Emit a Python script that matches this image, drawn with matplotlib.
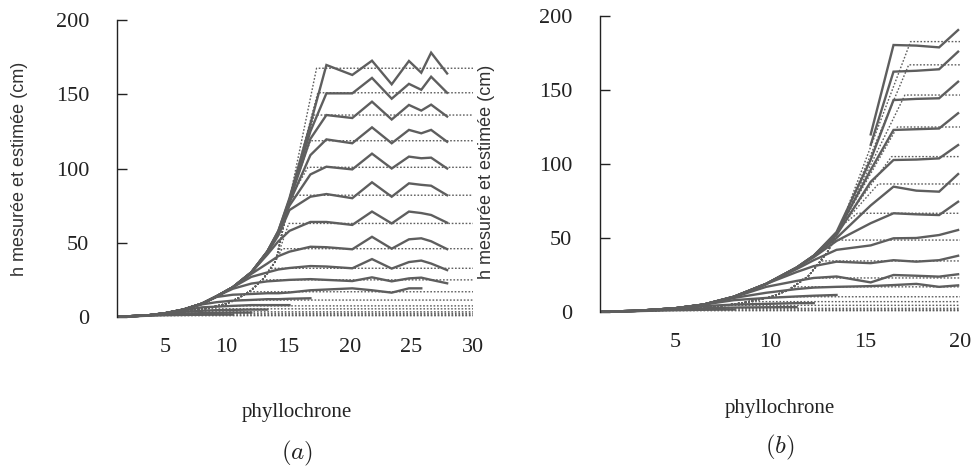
import matplotlib
matplotlib.use('Agg')
import matplotlib.pyplot as plt
import numpy as np

nan = np.nan

# ---- panel (a): measured heights (solid) ----
xa_meas = [1.2, 3.5, 5, 6.5, 8, 9.2, 10.5, 12, 13.3, 14.2, 15.1, 16.8, 18.1,
           20.2, 21.8, 23.4, 24.8, 25.8, 26.6, 27.9]
meas_a = [
    [0.2, 1.0, 2.5, 5, 9, 14, 20, 30, 44, 58, 80, 130, 169.7, 163, 172.6, 156.7, 172.4, 164.5, 178, 164],
    [0.2, 1.0, 2.5, 5, 9, 14, 20, 30, 44, 58, 79, 125, 150.6, 150.6, 161, 147, 157, 153, 161.8, 151],
    [0.2, 1.0, 2.5, 5, 9, 14, 20, 30, 44, 57, 78, 120, 136, 134, 145, 133, 142.8, 139, 143, 135],
    [0.2, 1.0, 2.5, 5, 9, 14, 20, 30, 44, 57, 77, 109, 119.6, 117, 127.7, 117, 126, 123.7, 126, 118],
    [0.2, 1.0, 2.5, 5, 9, 14, 20, 30, 44, 56, 75, 96, 101.2, 99.4, 110, 100, 108, 106.9, 107.3, 100],
    [0.2, 1.0, 2.5, 5, 9, 14, 20, 30, 43, 55, 72, 81, 82.8, 80, 90.7, 81, 90, 89, 88.4, 82],
    [0.2, 1.0, 2.5, 5, 9, 14, 20, 30, 42, 51, 58, 64, 64, 62, 71, 63, 71, 70, 68.7, 63.5],
    [0.2, 1.0, 2.5, 5, 9, 14, 20, 29, 36, 41, 44, 47.3, 47, 45.6, 54, 46, 52.3, 53, 51, 45.7],
    [0.2, 1.0, 2.5, 5, 9, 14, 20, 27, 30, 32, 33, 34.3, 34, 32.8, 39, 32.6, 37, 38, 36, 31.6],
    [0.2, 1.0, 2.5, 5, 9, 14, 19, 22.5, 24, 24.5, 25, 25.5, 25, 24.2, 26.7, 24, 26, 26.5, 25, 22.7],
    [0.2, 1.0, 2.5, 5, 9, 13.5, 15, 15.5, 16, 16, 16.5, 18, 18.5, 19.3, 18, 16.4, 19.3, 19.3, nan, nan],
    [0.2, 1.0, 2.5, 5, 8.5, 10, 11, 11.5, 12, 12, 12.3, 12.6, nan, nan, nan, nan, nan, nan, nan, nan],
    [0.2, 1.0, 2.5, 4.5, 6.5, 7, 7.5, 8, 8, 8, 8, nan, nan, nan, nan, nan, nan, nan, nan, nan],
    [0.2, 1.0, 2.3, 3.5, 4.2, 4.6, 4.8, 5, 5, nan, nan, nan, nan, nan, nan, nan, nan, nan, nan, nan],
    [0.2, 0.9, 1.8, 2.3, 2.6, 2.8, 3, 3, nan, nan, nan, nan, nan, nan, nan, nan, nan, nan, nan, nan],
    [0.2, 0.8, 1.2, 1.4, 1.5, 1.6, 1.6, nan, nan, nan, nan, nan, nan, nan, nan, nan, nan, nan, nan, nan],
]

# ---- panel (a): estimated heights (dotted) ----
est_env_x_a = [1.2, 3, 5, 7, 8.5, 10, 11, 12, 13, 14, 15.1]
est_env_y_a = [0.2, 0.8, 2, 4, 6, 9, 13, 18, 26, 38, 79]
corner_x_a = [17.3, 17.4, 17.1, 16.8, 16.6, 15.6, 15.05, 14.5, 13.7, 12.9, 11.9, 10.8, 9.8, 8.2, 6.6, 6.0, 4.5, 3.5]
plateau_a = [167.5, 151, 136, 118.7, 100.8, 82, 63, 46, 32.8, 25, 17, 11.4, 7.5, 5.5, 3.5, 2.5, 1.5, 0.9]

# ---- panel (b): measured heights (solid) ----
xb_meas = [1.2, 3, 5, 6.5, 8.1, 9.8, 11.4, 12.3, 13.5, 15.3, 16.5, 17.7, 18.9, 19.9]
meas_b = [
    [nan, nan, nan, nan, nan, nan, nan, nan, nan, 120, 180.4, 180, 178.8, 190.5],
    [nan, nan, nan, nan, nan, nan, nan, nan, nan, 113, 162.4, 163, 164, 175.9],
    [0.2, 0.8, 2.5, 5, 10.3, 19, 30, 38, 54, 103, 143.2, 144, 144.4, 155.6],
    [0.2, 0.8, 2.5, 5, 10.3, 19, 30, 38, 53, 96, 123, 123.5, 124, 134.3],
    [0.2, 0.8, 2.5, 5, 10.3, 19, 30, 38, 52, 88, 102.7, 103, 103.8, 112.8],
    [0.2, 0.8, 2.5, 5, 10.3, 19, 30, 38, 50, 72, 84.7, 82, 81.3, 93.2],
    [0.2, 0.8, 2.5, 5, 10.3, 19, 30, 37, 48, 60, 66.7, 66, 65.5, 74.5],
    [0.2, 0.8, 2.5, 5, 10.3, 19, 29, 35, 42, 45, 49.8, 50, 52, 55.4],
    [0.2, 0.8, 2.5, 5, 10.3, 19, 27, 31, 34, 33, 35, 34, 35, 38],
    [0.2, 0.8, 2.5, 5, 10, 17, 21, 23, 24, 20, 25, 24.5, 23.9, 25.5],
    [0.2, 0.8, 2.5, 5, 9.5, 13, 15.5, 16.5, 17, 17.5, 18.2, 19, 17, 18],
    [0.2, 0.8, 2.5, 5, 8, 9.5, 10.5, 11, 11.5, nan, nan, nan, nan, nan],
    [0.2, 0.8, 2.3, 4, 5, 5.5, 6, 6, nan, nan, nan, nan, nan, nan],
    [0.2, 0.7, 1.8, 2.5, 3, 3.2, 3.3, nan, nan, nan, nan, nan, nan, nan],
    [0.2, 0.6, 1.2, 1.5, 1.7, nan, nan, nan, nan, nan, nan, nan, nan, nan],
]

# ---- panel (b): estimated heights (dotted) ----
est_env_x_b = [1.2, 3, 5, 7, 8.5, 10, 11, 12, 13, 13.7]
est_env_y_b = [0.2, 0.6, 1.5, 3.5, 6, 10, 15, 24, 40, 57.6]
corner_x_b = [17.4, 17.3, 17.1, 16.7, 16.4, 15.7, 14.6, 13.4, 12.7, 11.8, 11.2, 10.4, 9.2, 8, 6.5, 5.5, 4.5]
plateau_b = [182.7, 167, 146.6, 125, 105, 86.5, 66.7, 48.6, 34.5, 23, 17, 10.3, 7, 4.5, 2.5, 1.5, 0.9]

yticks = [0, 50, 100, 150, 200]
xticks_a = [5, 10, 15, 20, 25, 30]
xticks_b = [5, 10, 15, 20]

LINE = '#5e5e5e'
SERIF = 'Liberation Serif'
plt.rcParams['mathtext.fontset'] = 'cm'


def est_curve(ex, ey, cx, plateau, x_end):
    # estimated curve: shared rise, then flat from the corner to the end
    xs = [x for x in ex if x < cx]
    ys = [y for x, y in zip(ex, ey) if x < cx]
    return xs + [cx, x_end], ys + [plateau, plateau]


def panel(ax, x_meas, meas, ex, ey, corners, plateaus, xlim, xticks):
    for cx, p in zip(corners, plateaus):
        xs, ys = est_curve(ex, ey, cx, p, xlim[1])
        ax.plot(xs, ys, color=LINE, lw=1.0, ls=(0, (1.2, 1.3)), clip_on=False)
    for row in meas:
        ax.plot(x_meas, row, color=LINE, lw=1.7, solid_joinstyle='miter', clip_on=False)

    ax.set_xlim(*xlim)
    ax.set_ylim(0, 200)
    for s in ['top', 'right', 'bottom']:
        ax.spines[s].set_visible(False)
    ax.spines['left'].set_color('#222222')
    ax.spines['left'].set_linewidth(1.0)
    ax.set_yticks(yticks)
    ax.set_xticks(xticks)
    ax.tick_params(axis='y', direction='in', length=7, width=1.0, pad=20, colors='#222222')
    ax.tick_params(axis='x', length=0, pad=15, colors='#222222')
    for lab in ax.get_xticklabels() + ax.get_yticklabels():
        lab.set_fontfamily(SERIF)
        lab.set_fontsize(16)


W, H = 979, 470
fig = plt.figure(figsize=(W / 100, H / 100), dpi=100)

ax_a = fig.add_axes([117 / W, 153 / H, 356 / W, 297 / H])
panel(ax_a, xa_meas, meas_a, est_env_x_a, est_env_y_a, corner_x_a, plateau_a, (1.1, 30), xticks_a)

ax_b = fig.add_axes([600 / W, 158 / H, 360 / W, 296 / H])
panel(ax_b, xb_meas, meas_b, est_env_x_b, est_env_y_b, corner_x_b, plateau_b, (1.05, 20), xticks_b)

ylab = 'h mesurée et estimée (cm)'
fig.text(20 / W, 1 - 169 / H, ylab, rotation=90, ha='center', va='center',
         fontsize=13, family='Liberation Sans', color='#333333')
fig.text(487 / W, 1 - 172 / H, ylab, rotation=90, ha='center', va='center',
         fontsize=13, family='Liberation Sans', color='#333333')

fig.text(297 / W, 1 - 412 / H, 'phyllochrone', ha='center', va='center',
         fontsize=15, family=SERIF, color='#222222')
fig.text(780 / W, 1 - 408 / H, 'phyllochrone', ha='center', va='center',
         fontsize=15, family=SERIF, color='#222222')
fig.text(297 / W, 1 - 453 / H, r'$(a)$', ha='center', va='center', fontsize=18, color='#222222')
fig.text(780 / W, 1 - 447 / H, r'$(b)$', ha='center', va='center', fontsize=18, color='#222222')

fig.savefig('out.png', dpi=100, facecolor='white')
